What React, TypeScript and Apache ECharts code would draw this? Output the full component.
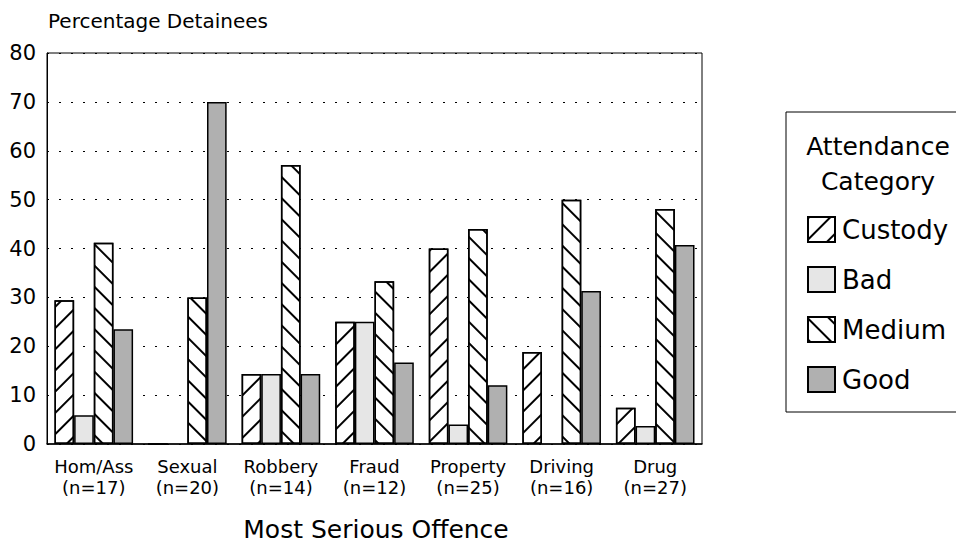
import React, { useEffect, useRef } from "react";
import * as echarts from "echarts";

const categories = ["Hom/Ass", "Sexual", "Robbery", "Fraud", "Property", "Driving", "Drug"];
const counts = [17, 20, 14, 12, 25, 16, 27];
const custody = [29.4, 0, 14.3, 25, 40, 18.8, 7.4];
const bad = [5.9, null, 14.3, 25, 4, null, 3.7];
const medium = [41.2, 30, 57.1, 33.3, 44, 50, 48.1];
const good = [23.5, 70, 14.3, 16.7, 12, 31.3, 40.7];
const seriesNames = ["Custody", "Bad", "Medium", "Good"];
const yTicks = [0, 10, 20, 30, 40, 50, 60, 70, 80];

const FONT = "DejaVu Sans";

export default function App() {
  const ref = useRef<HTMLDivElement>(null);
  useEffect(() => {
    if (!ref.current) return;
    const chart = echarts.init(ref.current, null, { renderer: "svg" });
    const hatch = (rot: number) => ({
      symbol: "rect",
      symbolSize: 1,
      color: "#000",
      dashArrayX: [1, 0],
      dashArrayY: [2, 13],
      rotation: rot,
    });
    const border = { borderColor: "#000", borderWidth: 1.5 };
    const datas = [custody, bad, medium, good];
    const styles: any[] = [
      { color: "#fff", ...border, decal: hatch(-Math.PI / 4) },
      { color: "#e6e6e6", ...border },
      { color: "#fff", ...border, decal: hatch(Math.PI / 4) },
      { color: "#b0b0b0", ...border },
    ];
    chart.setOption({
      animation: false,
      backgroundColor: "#fff",
      grid: {
        left: 47,
        right: 254,
        top: 53,
        bottom: 100,
        show: true,
        borderColor: "#000",
        borderWidth: 1,
        backgroundColor: "transparent",
      },
      xAxis: {
        type: "category",
        data: categories,
        axisTick: { show: false },
        axisLine: { show: true, lineStyle: { color: "#000", width: 1.5 } },
        axisLabel: {
          interval: 0,
          color: "#000",
          fontFamily: FONT,
          fontSize: 18,
          lineHeight: 21,
          margin: 12,
          formatter: (v: string) => {
            const i = categories.indexOf(v);
            return v + "\n(n=" + counts[i] + ")";
          },
        },
      },
      yAxis: {
        type: "value",
        min: yTicks[0],
        max: yTicks[yTicks.length - 1],
        interval: 10,
        axisLine: { show: true, lineStyle: { color: "#000" } },
        axisTick: { show: false },
        axisLabel: { color: "#000", fontFamily: FONT, fontSize: 21, margin: 11 },
        splitLine: { show: true, lineStyle: { color: "#000", type: [2, 10], width: 1 } },
      },
      legend: {
        orient: "vertical",
        left: 802,
        top: 211,
        itemWidth: 27,
        itemHeight: 25,
        itemGap: 23,
        icon: "rect",
        data: seriesNames,
        textStyle: { color: "#000", fontFamily: FONT, fontSize: 26, padding: [0, 0, 0, 2] },
      },
      graphic: [
        {
          type: "rect",
          shape: { x: 786, y: 112, width: 200, height: 300 },
          style: { fill: "none", stroke: "#000", lineWidth: 1 },
          silent: true,
        },
        {
          type: "text",
          x: 878,
          y: 164,
          style: {
            text: "Attendance\nCategory",
            fill: "#000",
            font: `25px '${FONT}'`,
            align: "center",
            verticalAlign: "middle",
            lineHeight: 35,
          },
        },
        {
          type: "text",
          x: 48,
          y: 21,
          style: {
            text: "Percentage Detainees",
            fill: "#000",
            font: `20px '${FONT}'`,
            align: "left",
            verticalAlign: "middle",
          },
        },
        {
          type: "text",
          x: 376,
          y: 529,
          style: {
            text: "Most Serious Offence",
            fill: "#000",
            font: `25px '${FONT}'`,
            align: "center",
            verticalAlign: "middle",
          },
        },
      ],
      series: seriesNames.map((name, i) => ({
        name,
        type: "bar",
        data: datas[i],
        barGap: "0%",
        barCategoryGap: "16%",
        itemStyle: styles[i],
        emphasis: { disabled: true },
      })),
    });
    return () => chart.dispose();
  }, []);
  return (
    <div
      ref={ref}
      style={{ position: "absolute", left: 0, top: 0, width: 956, height: 544 }}
    />
  );
}
